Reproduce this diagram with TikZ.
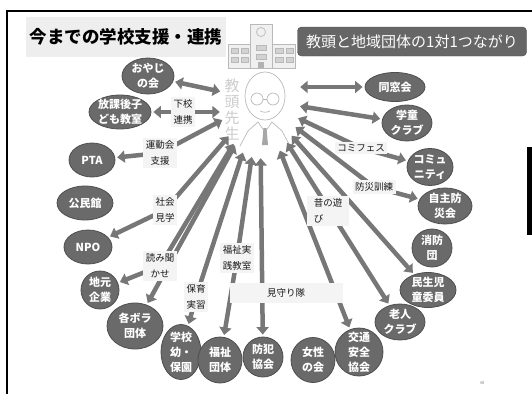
\documentclass[tikz,border=0pt]{standalone}
\usepackage{fontspec}
\setmainfont{Noto Sans CJK JP}
\usetikzlibrary{positioning,calc,arrows.meta,shapes.geometric}
\definecolor{orgfill}{HTML}{6A6A6A}
\definecolor{orgline}{HTML}{4E4E4E}
\definecolor{linkgray}{HTML}{777777}
\definecolor{tagbg}{HTML}{F4F4F4}
\definecolor{titlebg}{HTML}{EEEEEE}
\definecolor{headfill}{HTML}{666666}

\begin{document}
\begin{tikzpicture}[x=1pt,y=-1pt,
    org/.style={ellipse,fill=orgfill,draw=orgline,line width=0.8pt,text=white,inner sep=-4pt,align=center,font=\bfseries\fontsize{11}{15}\selectfont},
    tag/.style={fill=tagbg,inner sep=2.5pt,align=center,text=black!90,font=\fontsize{9.5}{16}\selectfont},
    link/.style={draw=linkgray,line width=4.5pt,{Triangle[width=12pt,length=7.5pt]}-{Triangle[width=12pt,length=7.5pt]},shorten <=2pt,shorten >=2pt},
    sketch/.style={draw=gray!55,line width=0.7pt}]

\useasboundingbox (0,0) rectangle (532,394);

% slide frame
\draw[line width=2pt] (7,394) -- (7,11) -- (532,11);
\fill (527,147) rectangle (532,235);

% headings
\node[fill=titlebg,minimum width=198pt,minimum height=40pt,font=\bfseries\fontsize{17.5}{17.5}\selectfont] (title) at (126,37) {今までの学校支援・連携};
\node[fill=headfill,draw=black!70,rounded corners=4pt,text=white,minimum width=229pt,minimum height=29pt,font=\fontsize{15}{15}\selectfont] (subtitle) at (412,41.5) {教頭と地域団体の1対1つながり};

% school building
\begin{scope}[sketch,fill=gray!12]
  \filldraw (228,44) rectangle (250,68);
  \filldraw (272,44) rectangle (295,68);
  \filldraw (250,24) rectangle (272,68);
  \draw (261,32) circle (4.5);
  \foreach \y in {48,57} {
    \filldraw[fill=gray!35] (231,\y) rectangle (238,\y+5);
    \filldraw[fill=gray!35] (241,\y) rectangle (248,\y+5);
    \filldraw[fill=gray!35] (275,\y) rectangle (283,\y+5);
    \filldraw[fill=gray!35] (286,\y) rectangle (293,\y+5);
    \filldraw[fill=gray!35] (256,\y-3) rectangle (266,\y+2);
  }
  \fill[gray!60] (258,62) rectangle (264,68);
\end{scope}

% vice principal
\node[text=gray!40,align=center,font=\fontsize{15}{16}\selectfont] (kyotoname) at (232,110) {教\\頭\\先\\生};
\begin{scope}[sketch]
  \draw (265,96) ellipse (20 and 24);
  \draw (257,99) circle (6);
  \draw (273,99) circle (6);
  \draw (263,99) -- (267,99);
  \draw (260,111) to[bend right=25] (270,111);
  \draw (240,146) -- (248,131) -- (258,122) -- (265,132) -- (272,122) -- (282,131) -- (290,146);
  \fill[gray!70] (263.5,128) -- (266.5,128) -- (268,145) -- (262,145) -- cycle;
\end{scope}
\node[ellipse,minimum width=76pt,minimum height=112pt] (kyoto) at (260,100) {};

% groups
\node[org,minimum width=52pt,minimum height=36pt] (oyaji) at (148,76) {おやじ\\の会};
\node[org,minimum width=62pt,minimum height=34pt] (hokago) at (120,112) {放課後子\\ども教室};
\node[org,minimum width=46pt,minimum height=34pt] (pta) at (92,160) {PTA};
\node[org,minimum width=56pt,minimum height=34pt] (kominkan) at (85,203) {公民館};
\node[org,minimum width=48pt,minimum height=34pt] (npo) at (88,247) {NPO};
\node[org,minimum width=38pt,minimum height=38pt] (jimoto) at (100,290) {地元\\企業};
\node[org,minimum width=56pt,minimum height=46pt] (bora) at (135,326) {各ボラ\\団体};
\node[org,minimum width=40pt,minimum height=55pt] (hoen) at (181,352) {学校\\幼・\\保園};
\node[org,minimum width=44pt,minimum height=46pt] (fukushi) at (220,360) {福祉\\団体};
\node[org,minimum width=40pt,minimum height=40pt] (bohan) at (263,357) {防犯\\協会};
\node[org,minimum width=44pt,minimum height=45pt] (josei) at (313,360) {女性\\の会};
\node[org,minimum width=48pt,minimum height=48pt] (kotsu) at (359,352) {交通\\安全\\協会};
\node[org,minimum width=50pt,minimum height=36pt] (rojin) at (400,322) {老人\\クラブ};
\node[org,minimum width=56pt,minimum height=35pt] (minsei) at (428,290) {民生児\\童委員};
\node[org,minimum width=40pt,minimum height=38pt] (shobo) at (432,248) {消防\\団};
\node[org,minimum width=54pt,minimum height=36pt] (jishu) at (445,206) {自主防\\災会};
\node[org,minimum width=46pt,minimum height=37pt] (komyu) at (430,167) {コミュ\\ニティ};
\node[org,minimum width=50pt,minimum height=36pt] (gakudo) at (407,123) {学童\\クラブ};
\node[org,minimum width=60pt,minimum height=29pt] (dosokai) at (395,87) {同窓会};

% where the activity labels sit
\coordinate (p-gekou) at (183,112);
\coordinate (p-undo) at (160,153);
\coordinate (p-shakai) at (165,210);
\coordinate (p-yomi) at (160,266);
\coordinate (p-hoiku) at (196,297);
\coordinate (p-fukushi) at (237,258);
\coordinate (p-mimamori) at (286,293);
\coordinate (p-mukashi) at (328,211);
\coordinate (p-bosai) at (374,187);
\coordinate (p-komi) at (361,148);

% one-to-one links
\draw[link] (oyaji) -- (kyoto);
\draw[link] (hokago) -- (hokago -| kyoto.west);
\draw[link] (pta) -- (p-undo) -- (kyoto);
\draw[link] (npo) -- (p-shakai) -- (kyoto);
\draw[link] (jimoto) -- (p-yomi) -- (kyoto);
\draw[link] (bora) -- (kyoto);
\draw[link] (hoen) -- (p-hoiku) -- (kyoto);
\draw[link] (fukushi) -- (p-fukushi) -- (kyoto);
\draw[link] (bohan) -- (kyoto);
\draw[link] (kotsu) -- (kyoto);
\draw[link] (rojin) -- (kyoto);
\draw[link] (minsei) -- (kyoto);
\draw[link] (jishu) -- (p-bosai) -- (kyoto);
\draw[link] (komyu) -- (p-komi) -- (kyoto);
\draw[link] (gakudo) -- (kyoto);
\draw[link] (dosokai) -- (dosokai -| kyoto.east);

% activity labels
\node[tag] (t-gekou) at (p-gekou) {下校\\連携};
\node[tag] (t-undo) at (p-undo) {運動会\\支援};
\node[tag] (t-shakai) at (p-shakai) {社会\\見学};
\node[tag] (t-yomi) at (p-yomi) {読み聞\\かせ};
\node[tag] (t-hoiku) at (p-hoiku) {保育\\実習};
\node[tag] (t-fukushi) at (p-fukushi) {福祉実\\践教室};
\node[tag,minimum width=113pt,minimum height=20pt] (t-mimamori) at (p-mimamori) {見守り隊};
\node[tag,align=left,minimum width=42pt] (t-mukashi) at (p-mukashi) {昔の遊\\び};
\node[tag] (t-bosai) at (p-bosai) {防災訓練};
\node[tag] (t-komi) at (p-komi) {コミフェス};

\node[text=gray,font=\fontsize{4}{4}\selectfont] (page) at (482,383) {48};
\end{tikzpicture}
\end{document}
